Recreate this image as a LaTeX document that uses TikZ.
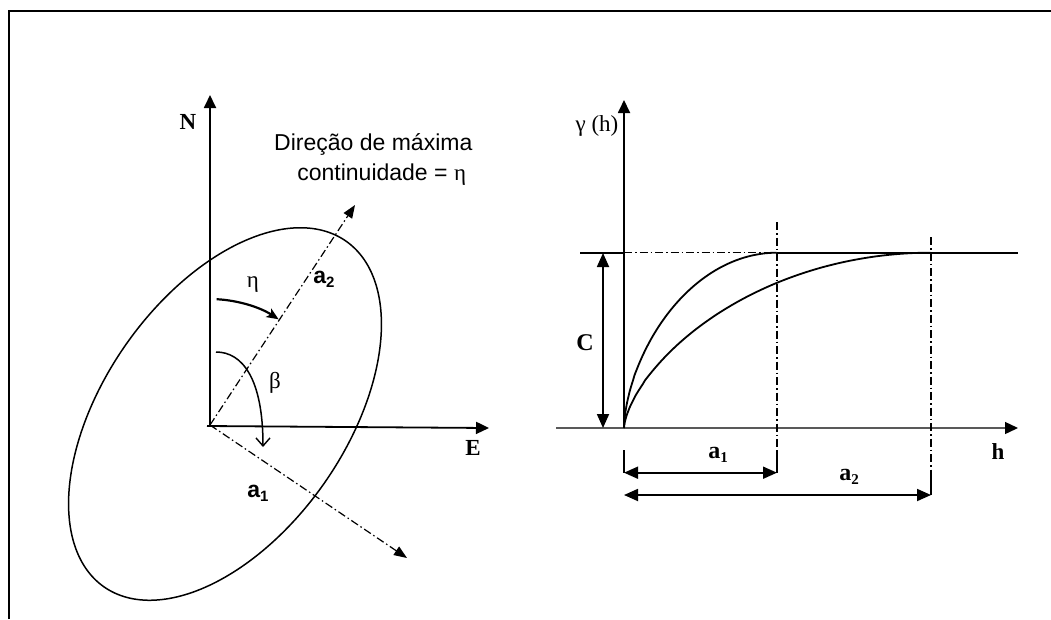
\documentclass[tikz,border=0pt]{standalone}
\usepackage{fontspec}
\setmainfont{Liberation Serif}
\newfontfamily\arialf{Liberation Sans}
\usetikzlibrary{arrows.meta}
\newcommand\mysub[1]{\raisebox{-0.35ex}{\fontsize{15}{15}\selectfont #1}}
\begin{document}
\begin{tikzpicture}[x=1pt,y=-1pt,
  ln/.style={line width=1.8pt},
  thin ln/.style={line width=1.5pt},
  dd/.style={line width=1.2pt, dash pattern=on 8pt off 3pt on 1.5pt off 3pt},
  tri/.style={-{Triangle[length=13pt,width=12pt]}},
  ditri/.style={{Triangle[length=14pt,width=12pt]}-{Triangle[length=14pt,width=12pt]}},
  serif/.style={font=\fontsize{23}{27}\selectfont, inner sep=0pt},
  bserif/.style={font=\fontsize{23}{27}\selectfont\bfseries, inner sep=0pt},
  sans/.style={font=\fontsize{23}{27}\selectfont\arialf, inner sep=0pt},
  bsans/.style={font=\fontsize{23}{27}\selectfont\arialf\bfseries, inner sep=0pt},
  ]
\useasboundingbox (0,0) rectangle (1051,619);
% frame
\coordinate (FB) at (9.3,619);
\coordinate (FC) at (9.3,11);
\coordinate (FR) at (1051,11);
\draw[line width=2pt] (FB) -- (FC) -- (FR);

% ---------- left panel ----------
\coordinate (O) at (210,425);
\coordinate (Nbase) at (210,426);
\coordinate (Ntip) at (210,95);
\coordinate (Es) at (207,426);
\coordinate (Etip) at (489,428);
\draw[ln,tri] (Nbase) -- (Ntip);
\draw[ln,tri] (Es) -- (Etip);
\node[bserif] (N) at (188,122) {N};
\node[bserif] (E) at (473,448) {E};

% ellipse
\draw[thin ln] plot[domain=0:357, samples=120, smooth cycle]
  ({225 + 121.03*cos(\x) + 99.12*sin(\x)}, {414 - 172.85*cos(\x) + 69.41*sin(\x)});

% principal directions
\coordinate (A2tip) at (355,205);
\coordinate (A1tip) at (407,558);
\draw[dd,-{Triangle[length=13pt,width=10pt]}] (O) -- (A2tip);
\draw[dd,-{Triangle[length=13pt,width=10pt]}] (O) -- (A1tip);

% angle arcs
\coordinate (EtaS) at (216.6,299.2);
\coordinate (EtaE) at (278.6,319.3);
\draw[line width=2.2pt,-{Stealth[length=12pt,width=10pt,inset=3pt]}] (EtaS) .. controls (238.7,300.4) and (260.1,307.3) .. (EtaE);
\coordinate (BetaS) at (216,352);
\coordinate (BetaE) at (263,447);
\draw[thin ln,-{Straight Barb[length=8pt,width=14pt,line width=1.4pt]}] (BetaS) .. controls (242,352) and (263,378) .. (BetaE);

\node[serif] (eta) at (253,285) {η};
\node[serif] (beta) at (275,383) {β};
\node[bsans] (la2) at (324,279) {a\mysub{2}};
\node[bsans] (la1) at (258,493) {a\mysub{1}};

\node[sans, anchor=base] (t1) at (373.3,150.7) {Direção de máxima};
\node[sans, anchor=base] (t2) at (381.7,180) {continuidade = {\rmfamily η}};

% ---------- right panel ----------
\coordinate (G0) at (624,428);
\coordinate (Gtip) at (624,100);
\draw[ln,tri] (G0) -- (Gtip);
\coordinate (Hs) at (556,428);
\coordinate (Htip) at (1018,428);
\draw[line width=1.3pt, black!65, -{Triangle[length=13pt,width=12pt,color=black]}] (Hs) -- (Htip);

\coordinate (S0) at (580,252.7);
\coordinate (S1) at (624,252.7);
\coordinate (S2) at (777,252.7);
\coordinate (S3) at (1018,252.7);
\draw[ln] (S0) -- (S1);
\draw[dd] (S1) -- (S2);
\draw[ln] (S2) -- (S3);

% sill arrow
\coordinate (Ct) at (603,253);
\coordinate (Cb) at (603,428);
\draw[ln,ditri] (Ct) -- (Cb);
\node[bserif,font=\fontsize{24}{28}\selectfont\bfseries] (C) at (585,343) {C};

% curves
\draw[ln] (G0) -- plot[domain=0.02:1, samples=70, smooth]
  ({624+153*\x*\x}, {428-175.3*(\x*\x*(2-\x*\x))^0.6});
\draw[ln] (G0) -- plot[domain=0.02:1, samples=70, smooth]
  ({624+307*\x*\x}, {428-175.3*(\x*\x*(2-\x*\x))^0.65});

% range lines
\coordinate (R1t) at (777,222);
\coordinate (R1b) at (777,472.7);
\coordinate (R1m) at (777,450);
\coordinate (R2t) at (931,237);
\coordinate (R2b) at (931,495);
\coordinate (R2m) at (931,470);
\draw[dd] (R1t) -- (R1m);
\draw[thin ln] (R1m) -- (R1b);
\draw[dd] (R2t) -- (R2m);
\draw[thin ln] (R2m) -- (R2b);
\coordinate (L1t) at (624,450);
\coordinate (L1b) at (624,472.7);
\draw[thin ln] (L1t) -- (L1b);
\coordinate (L2b) at (624,495);

\draw[ln,ditri] (L1b) -- (R1b);
\draw[ln,ditri] (L2b) -- (R2b);

\node[serif] (gam) at (597,126) {γ (h)};
\node[bserif] (h) at (998,452) {h};
\node[bserif,font=\fontsize{24}{28}\selectfont\bfseries] (ra1) at (718,455) {a\mysub{1}};
\node[bserif,font=\fontsize{24}{28}\selectfont\bfseries] (ra2) at (849,477) {a\mysub{2}};
\end{tikzpicture}
\end{document}
